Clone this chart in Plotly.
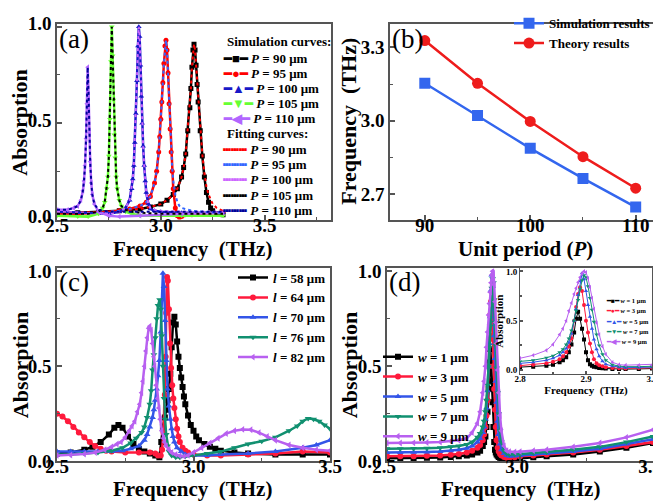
import plotly.graph_objects as go

# ---------------- Panel (a): absorption spectra for different P ----------------
a_f90 = [2.50, 2.60, 2.70, 2.80, 2.90, 2.95, 3.00, 3.03, 3.06, 3.08, 3.10, 3.11, 3.12, 3.13, 3.14, 3.145,
         3.15, 3.155, 3.16, 3.165, 3.17, 3.175, 3.18, 3.19, 3.20, 3.21, 3.22, 3.23, 3.24, 3.25, 3.27, 3.30]
a_sim90 = [0.03, 0.035, 0.04, 0.045, 0.055, 0.065, 0.08, 0.10, 0.13, 0.16, 0.22, 0.27, 0.34, 0.46, 0.58, 0.68,
           0.79, 0.88, 0.91, 0.88, 0.80, 0.70, 0.61, 0.46, 0.33, 0.22, 0.14, 0.09, 0.06, 0.045, 0.03, 0.025]
a_fit90 = [0.03, 0.035, 0.04, 0.045, 0.055, 0.065, 0.08, 0.10, 0.13, 0.16, 0.22, 0.27, 0.34, 0.46, 0.58, 0.68,
           0.79, 0.88, 0.91, 0.88, 0.80, 0.70, 0.61, 0.46, 0.34, 0.24, 0.17, 0.13, 0.10, 0.08, 0.06, 0.045]

a_f95 = [2.50, 2.60, 2.70, 2.80, 2.85, 2.90, 2.93, 2.95, 2.97, 2.98, 2.99, 2.995, 3.00, 3.005, 3.01, 3.015,
         3.02, 3.025, 3.03, 3.035, 3.04, 3.045, 3.05, 3.055, 3.06, 3.07, 3.08, 3.09, 3.10, 3.15, 3.20, 3.30]
a_sim95 = [0.03, 0.03, 0.035, 0.045, 0.055, 0.07, 0.09, 0.12, 0.19, 0.25, 0.35, 0.43, 0.52, 0.61, 0.71, 0.81,
           0.90, 0.93, 0.88, 0.76, 0.60, 0.47, 0.35, 0.25, 0.16, 0.06, 0.02, 0.01, 0.015, 0.025, 0.03, 0.035]
a_fit95 = [0.03, 0.03, 0.035, 0.045, 0.055, 0.07, 0.09, 0.12, 0.19, 0.25, 0.35, 0.43, 0.52, 0.61, 0.71, 0.81,
           0.90, 0.93, 0.88, 0.76, 0.60, 0.47, 0.36, 0.27, 0.20, 0.13, 0.09, 0.07, 0.06, 0.045, 0.04, 0.035]

a_f100 = [2.50, 2.60, 2.70, 2.75, 2.80, 2.83, 2.85, 2.86, 2.865, 2.87, 2.875, 2.88, 2.885, 2.89, 2.894,
          2.898, 2.902, 2.906, 2.91, 2.915, 2.92, 2.925, 2.93, 2.94, 2.95, 2.97, 3.00, 3.10, 3.20, 3.30]
a_sim100 = [0.04, 0.035, 0.03, 0.03, 0.04, 0.06, 0.10, 0.16, 0.21, 0.28, 0.40, 0.55, 0.72, 0.90, 1.0,
            0.95, 0.80, 0.64, 0.50, 0.38, 0.28, 0.20, 0.14, 0.08, 0.055, 0.045, 0.04, 0.035, 0.035, 0.035]
a_fit100 = [0.04, 0.035, 0.03, 0.03, 0.04, 0.06, 0.10, 0.16, 0.21, 0.28, 0.40, 0.55, 0.72, 0.90, 1.0,
            0.95, 0.80, 0.64, 0.50, 0.38, 0.28, 0.20, 0.14, 0.08, 0.06, 0.05, 0.045, 0.04, 0.04, 0.04]

a_f105 = [2.50, 2.60, 2.65, 2.70, 2.72, 2.73, 2.74, 2.745, 2.75, 2.755, 2.76, 2.764, 2.768, 2.772, 2.776,
          2.78, 2.785, 2.79, 2.80, 2.81, 2.83, 2.86, 2.90, 3.00, 3.10, 3.30]
a_sim105 = [0.02, 0.015, 0.015, 0.03, 0.06, 0.09, 0.16, 0.22, 0.33, 0.52, 0.82, 1.0, 0.85, 0.62, 0.44,
            0.32, 0.22, 0.16, 0.10, 0.07, 0.04, 0.03, 0.02, 0.02, 0.02, 0.02]
a_fit105 = [0.03, 0.03, 0.03, 0.04, 0.06, 0.09, 0.16, 0.22, 0.33, 0.52, 0.82, 1.0, 0.85, 0.62, 0.44,
            0.32, 0.22, 0.16, 0.10, 0.07, 0.05, 0.04, 0.035, 0.03, 0.03, 0.03]

a_f110 = [2.50, 2.55, 2.58, 2.60, 2.615, 2.625, 2.63, 2.635, 2.64, 2.644, 2.648, 2.652, 2.656, 2.66,
          2.665, 2.67, 2.68, 2.70, 2.75, 2.80, 2.90, 3.00, 3.10, 3.30]
a_sim110 = [0.05, 0.05, 0.06, 0.07, 0.10, 0.15, 0.20, 0.28, 0.42, 0.60, 0.79, 0.65, 0.45, 0.30,
            0.19, 0.13, 0.08, 0.04, 0.02, 0.015, 0.02, 0.025, 0.03, 0.035]
a_fit110 = [0.05, 0.05, 0.06, 0.07, 0.10, 0.15, 0.20, 0.28, 0.42, 0.60, 0.79, 0.65, 0.45, 0.30,
            0.19, 0.13, 0.08, 0.05, 0.04, 0.04, 0.04, 0.04, 0.04, 0.04]

a_names = ["<i>P</i> = 90 μm", "<i>P</i> = 95 μm", "<i>P</i> = 100 μm", "<i>P</i> = 105 μm", "<i>P</i> = 110 μm"]
a_sim_title = "Simulation curves:"
a_fit_title = "Fitting curves:"

# ---------------- Panel (b): resonance frequency vs unit period ----------------
b_period = [90, 95, 100, 105, 110]
b_simulation = [3.153, 3.021, 2.887, 2.764, 2.647]
b_theory = [3.328, 3.153, 2.997, 2.853, 2.724]

# ---------------- Panel (c): absorption spectra for different l ----------------
c_f58 = [2.50, 2.55, 2.60, 2.63, 2.66, 2.69, 2.71, 2.725, 2.74, 2.76, 2.78, 2.80, 2.82, 2.84, 2.86, 2.875,
         2.882, 2.888, 2.895, 2.90, 2.905, 2.91, 2.915, 2.92, 2.925, 2.93, 2.935, 2.94, 2.945, 2.95, 2.955,
         2.96, 2.965, 2.97, 2.98, 2.99, 3.00, 3.01, 3.02, 3.04, 3.06, 3.08, 3.10, 3.15, 3.20, 3.30, 3.40, 3.50]
c_a58 = [0.04, 0.045, 0.06, 0.075, 0.10, 0.14, 0.175, 0.19, 0.175, 0.13, 0.09, 0.065, 0.05, 0.04, 0.03, 0.02,
         0.10, 0.18, 0.23, 0.27, 0.32, 0.38, 0.46, 0.60, 0.73, 0.76, 0.72, 0.63, 0.55, 0.49, 0.44,
         0.39, 0.34, 0.30, 0.24, 0.19, 0.16, 0.13, 0.11, 0.09, 0.075, 0.065, 0.055, 0.045, 0.04, 0.035, 0.035, 0.035]

c_f64 = [2.50, 2.52, 2.54, 2.56, 2.58, 2.60, 2.62, 2.64, 2.66, 2.68, 2.70, 2.75, 2.80, 2.84, 2.86, 2.87, 2.88,
         2.885, 2.89, 2.895, 2.898, 2.90, 2.903, 2.906, 2.91, 2.914, 2.918, 2.922, 2.926, 2.93, 2.935, 2.94,
         2.945, 2.95, 2.96, 2.97, 2.98, 3.00, 3.05, 3.10, 3.20, 3.30, 3.40, 3.50]
c_a64 = [0.25, 0.235, 0.21, 0.18, 0.15, 0.125, 0.10, 0.08, 0.065, 0.055, 0.05, 0.045, 0.045, 0.045, 0.04, 0.03, 0.03,
         0.06, 0.15, 0.35, 0.55, 0.78, 0.97, 0.95, 0.80, 0.62, 0.49, 0.40, 0.33, 0.28, 0.22, 0.17,
         0.13, 0.10, 0.07, 0.055, 0.045, 0.035, 0.03, 0.03, 0.035, 0.04, 0.05, 0.045]

c_f70 = [2.50, 2.55, 2.60, 2.65, 2.70, 2.74, 2.77, 2.80, 2.82, 2.83, 2.84, 2.85, 2.855, 2.86, 2.865, 2.87,
         2.875, 2.88, 2.884, 2.888, 2.892, 2.896, 2.90, 2.905, 2.91, 2.915, 2.92, 2.925, 2.93, 2.94, 2.955,
         2.97, 3.00, 3.05, 3.10, 3.20, 3.30, 3.40, 3.45, 3.50]
c_a70 = [0.05, 0.05, 0.05, 0.05, 0.05, 0.055, 0.065, 0.08, 0.11, 0.14, 0.18, 0.23, 0.27, 0.32, 0.38, 0.45,
         0.53, 0.68, 0.85, 0.99, 0.92, 0.74, 0.53, 0.38, 0.29, 0.22, 0.17, 0.13, 0.10, 0.07, 0.05,
         0.035, 0.03, 0.03, 0.035, 0.04, 0.05, 0.07, 0.085, 0.11]

c_f76 = [2.50, 2.55, 2.60, 2.65, 2.70, 2.74, 2.77, 2.79, 2.81, 2.82, 2.83, 2.84, 2.845, 2.85, 2.855, 2.86,
         2.865, 2.87, 2.876, 2.88, 2.884, 2.888, 2.892, 2.896, 2.90, 2.905, 2.91, 2.92, 2.935, 2.95, 2.97,
         3.00, 3.05, 3.10, 3.15, 3.20, 3.25, 3.30, 3.35, 3.38, 3.40, 3.42, 3.44, 3.46, 3.48, 3.50]
c_a76 = [0.035, 0.035, 0.04, 0.045, 0.055, 0.07, 0.095, 0.12, 0.15, 0.18, 0.23, 0.30, 0.37, 0.48, 0.56, 0.65,
         0.75, 0.82, 0.85, 0.80, 0.66, 0.50, 0.33, 0.22, 0.14, 0.08, 0.05, 0.03, 0.02, 0.02, 0.025,
         0.03, 0.04, 0.05, 0.07, 0.09, 0.105, 0.125, 0.16, 0.185, 0.21, 0.225, 0.22, 0.21, 0.19, 0.17]

c_f82 = [2.50, 2.55, 2.60, 2.64, 2.675, 2.70, 2.72, 2.735, 2.75, 2.765, 2.775, 2.785, 2.795, 2.803, 2.81,
         2.815, 2.821, 2.826, 2.831, 2.836, 2.84, 2.845, 2.85, 2.855, 2.858, 2.863, 2.868, 2.873, 2.878,
         2.884, 2.89, 2.894, 2.90, 2.91, 2.92, 2.935, 2.95, 2.965, 2.98, 3.00, 3.03, 3.06, 3.09, 3.12,
         3.15, 3.18, 3.21, 3.24, 3.27, 3.30, 3.35, 3.40, 3.45, 3.50]
c_a82 = [0.03, 0.032, 0.037, 0.045, 0.06, 0.075, 0.09, 0.10, 0.125, 0.16, 0.185, 0.21, 0.26, 0.30, 0.36,
         0.42, 0.50, 0.58, 0.65, 0.70, 0.71, 0.69, 0.62, 0.55, 0.50, 0.40, 0.33, 0.28, 0.22,
         0.16, 0.12, 0.10, 0.08, 0.06, 0.045, 0.035, 0.028, 0.025, 0.03, 0.045, 0.07, 0.095, 0.12, 0.145,
         0.16, 0.167, 0.165, 0.15, 0.13, 0.11, 0.085, 0.07, 0.06, 0.055]

c_names = ["<i>l</i> = 58 μm", "<i>l</i> = 64 μm", "<i>l</i> = 70 μm", "<i>l</i> = 76 μm", "<i>l</i> = 82 μm"]

# ---------------- Panel (d): absorption spectra for different w ----------------
d_freq = [2.50, 2.55, 2.60, 2.65, 2.70, 2.74, 2.77, 2.80, 2.82, 2.84, 2.85, 2.86, 2.865, 2.87, 2.874, 2.878,
          2.882, 2.885, 2.888, 2.891, 2.894, 2.897, 2.900, 2.903, 2.906, 2.909, 2.912, 2.916, 2.92, 2.925,
          2.93, 2.94, 2.95, 2.96, 2.98, 3.00, 3.05, 3.10, 3.20, 3.30, 3.40, 3.50]
d_w1 = [0.015, 0.015, 0.016, 0.017, 0.019, 0.022, 0.025, 0.03, 0.035, 0.045, 0.055, 0.08, 0.10, 0.13, 0.18, 0.26,
        0.38, 0.52, 0.59, 0.52, 0.42, 0.31, 0.18, 0.10, 0.06, 0.045, 0.035, 0.028, 0.022, 0.018,
        0.015, 0.012, 0.01, 0.01, 0.012, 0.015, 0.02, 0.025, 0.035, 0.05, 0.07, 0.095]
d_w3 = [0.025, 0.025, 0.026, 0.028, 0.03, 0.033, 0.037, 0.045, 0.055, 0.07, 0.085, 0.11, 0.14, 0.18, 0.24, 0.32,
        0.50, 0.64, 0.77, 0.84, 0.80, 0.66, 0.50, 0.38, 0.27, 0.18, 0.11, 0.07, 0.05, 0.038,
        0.03, 0.022, 0.018, 0.017, 0.02, 0.025, 0.03, 0.035, 0.045, 0.06, 0.08, 0.10]
d_w5 = [0.045, 0.045, 0.046, 0.048, 0.05, 0.055, 0.06, 0.068, 0.08, 0.10, 0.12, 0.15, 0.18, 0.22, 0.28, 0.37,
        0.50, 0.62, 0.76, 0.90, 0.98, 0.92, 0.80, 0.66, 0.54, 0.42, 0.31, 0.21, 0.14, 0.09,
        0.06, 0.04, 0.03, 0.025, 0.027, 0.03, 0.035, 0.04, 0.05, 0.065, 0.09, 0.115]
d_w7 = [0.065, 0.065, 0.066, 0.068, 0.07, 0.075, 0.08, 0.088, 0.10, 0.125, 0.145, 0.18, 0.21, 0.26, 0.32, 0.40,
        0.50, 0.60, 0.71, 0.82, 0.91, 0.96, 0.94, 0.85, 0.73, 0.61, 0.49, 0.36, 0.25, 0.16,
        0.10, 0.055, 0.04, 0.035, 0.035, 0.037, 0.042, 0.047, 0.06, 0.075, 0.10, 0.13]
d_w9 = [0.095, 0.095, 0.096, 0.098, 0.10, 0.105, 0.11, 0.12, 0.15, 0.20, 0.26, 0.36, 0.42, 0.50, 0.60, 0.68,
        0.77, 0.83, 0.89, 0.94, 0.98, 1.0, 0.99, 0.93, 0.84, 0.73, 0.62, 0.48, 0.36, 0.24,
        0.16, 0.08, 0.055, 0.05, 0.048, 0.05, 0.055, 0.06, 0.075, 0.095, 0.125, 0.165]
d_names = ["<i>w</i> = 1 μm", "<i>w</i> = 3 μm", "<i>w</i> = 5 μm", "<i>w</i> = 7 μm", "<i>w</i> = 9 μm"]

# axis titles
FREQ = "Frequency\u00a0 (THz)"
ABS = "Absorption"
PERIOD = "Unit period (<i>P</i>)"

# ---------------- styling ----------------
W, H = 661, 502
FONT = "Liberation Serif"
SYMS = ["square", "circle", "triangle-up", "triangle-down", "triangle-left"]
GLYPHS = ["■", "●", "▲", "▼", "◀"]
A_SIM_COLS = ["#000000", "#FF0000", "#1818C8", "#66FF33", "#B266FF"]
A_FIT_COLS = ["#FF0000", "#3366FF", "#CC66FF", "#000000", "#000099"]
CD_COLS = ["#000000", "#FF1A3C", "#3355E8", "#119070", "#B860F0"]


def px(x):
    return x / W


def py(y):
    return 1 - y / H


fig = go.Figure()

a_sets = [(a_f90, a_sim90, a_fit90), (a_f95, a_sim95, a_fit95), (a_f100, a_sim100, a_fit100),
          (a_f105, a_sim105, a_fit105), (a_f110, a_sim110, a_fit110)]
for i, (fx, sy, fy) in enumerate(a_sets):
    fig.add_trace(go.Scatter(x=fx, y=sy, mode="lines+markers", name=a_names[i], showlegend=False,
                             line=dict(color=A_SIM_COLS[i], width=2.5),
                             marker=dict(symbol=SYMS[i], size=5, color=A_SIM_COLS[i]),
                             xaxis="x", yaxis="y"))
for i, (fx, sy, fy) in enumerate(a_sets):
    fig.add_trace(go.Scatter(x=fx, y=fy, mode="lines", name=a_names[i], showlegend=False,
                             line=dict(color=A_FIT_COLS[i], width=2, dash="dot"),
                             xaxis="x", yaxis="y"))

fig.add_trace(go.Scatter(x=b_period, y=b_simulation, mode="lines+markers", name="Simulation results",
                         legend="legend3", line=dict(color="#3366EE", width=2.5),
                         marker=dict(symbol="square", size=11, color="#3366EE"), xaxis="x2", yaxis="y2"))
fig.add_trace(go.Scatter(x=b_period, y=b_theory, mode="lines+markers", name="Theory results",
                         legend="legend3", line=dict(color="#EE1C1C", width=2.5),
                         marker=dict(symbol="circle", size=11, color="#EE1C1C"), xaxis="x2", yaxis="y2"))

c_sets = [(c_f58, c_a58), (c_f64, c_a64), (c_f70, c_a70), (c_f76, c_a76), (c_f82, c_a82)]
for i, (fx, ay) in enumerate(c_sets):
    fig.add_trace(go.Scatter(x=fx, y=ay, mode="lines+markers", name=c_names[i], legend="legend4",
                             line=dict(color=CD_COLS[i], width=2.5),
                             marker=dict(symbol=SYMS[i], size=6, color=CD_COLS[i]),
                             xaxis="x3", yaxis="y3"))

d_sets = [d_w1, d_w3, d_w5, d_w7, d_w9]
for i, ay in enumerate(d_sets):
    fig.add_trace(go.Scatter(x=d_freq, y=ay, mode="lines+markers", name=d_names[i], legend="legend5",
                             line=dict(color=CD_COLS[i], width=2.5),
                             marker=dict(symbol=SYMS[i], size=6, color=CD_COLS[i]),
                             xaxis="x4", yaxis="y4"))
for i, ay in enumerate(d_sets):
    fig.add_trace(go.Scatter(x=d_freq, y=ay, mode="lines+markers", name=d_names[i], showlegend=False,
                             line=dict(color=CD_COLS[i], width=1),
                             marker=dict(symbol=SYMS[i], size=4, color=CD_COLS[i]),
                             xaxis="x5", yaxis="y5"))


def axis(domain, rng, anchor, tsize=19, ticklen=5, lstand=0, lshift=0, **kw):
    d = dict(domain=domain, range=rng, anchor=anchor, showline=True, mirror=True,
             linecolor="#555555", linewidth=1.5, ticks="inside", ticklen=ticklen, tickwidth=1.5,
             tickcolor="#555555", showgrid=False, zeroline=False, automargin=False,
             ticklabeloverflow="allow", ticklabelstandoff=lstand, ticklabelshift=lshift,
             tickfont=dict(family=FONT, size=tsize, color="black", weight="bold"))
    d.update(kw)
    return d


minor = dict(ticks="inside", ticklen=3, tickcolor="#555555", tickwidth=1.2)

layout = dict(
    width=W, height=H, template="none", paper_bgcolor="white", plot_bgcolor="white",
    margin=dict(l=0, r=0, t=0, b=0), autosize=False,
    font=dict(family=FONT, color="black"),
    xaxis=axis([px(49), px(323)], [2.5, 3.82], "y", lstand=-12, dtick=0.5, tickformat=".1f",
               minor=dict(dtick=0.25, **minor)),
    yaxis=axis([py(205), py(5)], [0, 1.015], "x", lshift=-3, dtick=0.5, tickformat=".1f",
               minor=dict(dtick=0.25, **minor)),
    xaxis2=axis([px(382), px(653)], [86.7, 112.4], "y2", lstand=-12,
                tickvals=[90, 100, 110], minor=dict(tickvals=[95, 105], **minor)),
    yaxis2=axis([py(205), py(5)], [2.596, 3.396], "x2", tick0=2.7, dtick=0.3,
                tickformat=".1f", minor=dict(tick0=2.7, dtick=0.15, **minor)),
    xaxis3=axis([px(49), px(322)], [2.5, 3.5], "y3", lstand=-13, dtick=0.5, tickformat=".1f",
                minor=dict(dtick=0.25, **minor)),
    yaxis3=axis([py(452), py(255)], [0, 1.015], "x3", dtick=0.5, tickformat=".1f",
                minor=dict(dtick=0.25, **minor)),
    xaxis4=axis([px(379), px(645)], [2.5, 3.5], "y4", lstand=-13, lshift=-3, dtick=0.5, tickformat=".1f",
                minor=dict(dtick=0.25, **minor)),
    yaxis4=axis([py(452), py(255)], [0, 1.015], "x4", dtick=0.5, tickformat=".1f",
                minor=dict(dtick=0.25, **minor)),
    xaxis5=axis([px(512), px(644)], [2.8, 3.0], "y5", tsize=9, ticklen=3, lstand=-4,
                dtick=0.1, tickformat=".1f", linewidth=1,
                title=dict(text=FREQ, standoff=0, font=dict(family=FONT, size=11, color="black", weight="bold")),
                minor=dict(dtick=0.05, ticks="inside", ticklen=2, tickcolor="#555555")),
    yaxis5=axis([py(363), py(255)], [-0.04, 1.03], "x5", tsize=9, ticklen=3,
                dtick=0.5, tickformat=".1f", linewidth=1,
                title=dict(text=ABS, standoff=0, font=dict(family=FONT, size=11, color="black", weight="bold")),
                minor=dict(dtick=0.25, ticks="inside", ticklen=2, tickcolor="#555555")),
)


def legend(x, y, size=13):
    return dict(x=px(x), y=py(y), xanchor="left", yanchor="top", bgcolor="rgba(0,0,0,0)",
                borderwidth=0, font=dict(family=FONT, size=size, color="black", weight="bold"),
                tracegroupgap=0, itemwidth=30)


layout["legend3"] = legend(501, -11, 13)
layout["legend4"] = legend(225, 249, 13)
layout["legend5"] = legend(370, 330, 13)

ann = []
for t, x, y in [("(a)", 49, 3), ("(b)", 382, 3), ("(c)", 49, 252), ("(d)", 379, 252)]:
    ann.append(dict(text=t, x=px(x), y=py(y), xref="paper", yref="paper", xanchor="left", yanchor="top",
                    showarrow=False, font=dict(family=FONT, size=27, color="black")))

# axis titles of the four main panels
TFONT = dict(family=FONT, size=21, color="black", weight="bold")
for t, x, y in [(FREQ, 184, 235), (PERIOD, 517, 235), (FREQ, 184, 480.5), (FREQ, 512, 480.5)]:
    ann.append(dict(text=t, x=px(x), y=py(y), xref="paper", yref="paper", xanchor="center",
                    yanchor="middle", showarrow=False, font=TFONT))
YFONT = dict(family=FONT, size=22, color="black", weight="bold")
for t, x, y in [(ABS, 12, 106), (FREQ, 341, 105), (ABS, 12, 354), (ABS, 341, 354)]:
    ann.append(dict(text=t, x=px(x), y=py(y), xref="paper", yref="paper", xanchor="center",
                    yanchor="middle", textangle=-90, showarrow=False, font=YFONT))


def key_row(sample, color, label, x, y, size):
    return dict(text=f'<span style="color:{color}">{sample}</span> {label}', x=px(x), y=py(y),
                xref="paper", yref="paper", xanchor="left", yanchor="middle", showarrow=False,
                font=dict(family=FONT, size=size, color="black", weight="bold"))


# panel (a) key: simulation and fitting groups
KFONT = dict(family=FONT, size=13, color="black", weight="bold")
ann.append(dict(text=a_sim_title, x=px(217), y=py(23), xref="paper", yref="paper", xanchor="left",
                yanchor="middle", showarrow=False, font=KFONT))
ann.append(dict(text=a_fit_title, x=px(217), y=py(117.5), xref="paper", yref="paper", xanchor="left",
                yanchor="middle", showarrow=False, font=KFONT))
sim_rows = [40, 55.5, 71, 86.5, 102]
fit_rows = [133, 148.5, 164, 180, 196]
for i in range(5):
    ann.append(key_row("━" + GLYPHS[i] + "━", A_SIM_COLS[i], a_names[i], 213, sim_rows[i], 13))
    ann.append(key_row("┅┅┅", A_FIT_COLS[i], a_names[i], 213, fit_rows[i], 13))

# inset key
inset_rows = [288, 298.5, 309, 319.5, 330]
for i in range(5):
    ann.append(key_row("━" + GLYPHS[i] + "━", CD_COLS[i], d_names[i], 596, inset_rows[i], 6.5))

layout["annotations"] = ann
fig.update_layout(**layout)
fig.write_html("out.html")
